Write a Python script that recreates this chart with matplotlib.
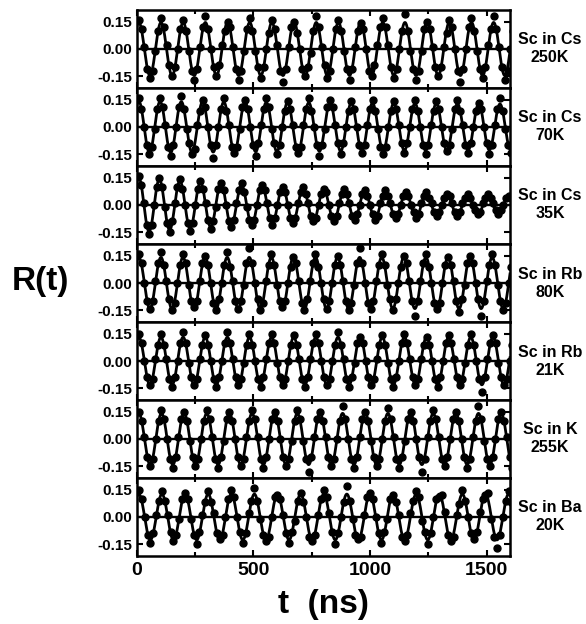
import numpy as np
import matplotlib
matplotlib.use("Agg")
import matplotlib.pyplot as plt
from matplotlib.ticker import MultipleLocator, FixedLocator, FixedFormatter

plt.rcParams['font.family'] = ['Liberation Sans', 'DejaVu Sans']
plt.rcParams['font.weight'] = 'bold'
plt.rcParams['axes.unicode_minus'] = False

# ---------------- data ----------------
panel_labels = ["Sc in Cs\n250K", "Sc in Cs\n70K", "Sc in Cs\n35K",
                "Sc in Rb\n80K", "Sc in Rb\n21K", "Sc in K\n255K", "Sc in Ba\n20K"]

# fitted curve parameters
fit_amp = [0.145, 0.14, 0.15, 0.14, 0.13, 0.14, 0.125]     # amplitude
fit_period = [95.0, 91.0, 88.0, 94.6, 94.8, 97.0, 99.0]    # ns
fit_decay = [0.0, 0.00007, 0.0007, 0.0, 0.0, 0.0, 0.0]     # 1/ns
fit_peak = 10.0                                             # ns, first maximum

# measured R(t), in units of 0.01, 8 samples per oscillation period starting at first maximum
r_cs250 = [16, 11, 1, -11, -16, -12, -1, 10,
           17, 12, 2, -9, -15, -10, 0, 11,
           16, 10, -1, -12, -17, -11, 1, 12,
           18, 11, 0, -10, -15, -9, 2, 10,
           15, 12, 1, -11, -17, -12, -1, 11,
           17, 10, -1, -10, -16, -10, 0, 9,
           16, 11, 2, -12, -18, -11, 1, 12,
           15, 9, 0, -11, -15, -10, -2, 10,
           18, 12, 1, -9, -16, -12, 0, 11,
           16, 10, -1, -11, -17, -11, 1, 10,
           14, 11, 0, -12, -15, -9, 2, 12,
           17, 12, 2, -10, -16, -11, 0, 10,
           19, 10, -1, -11, -17, -12, -1, 11,
           15, 11, 1, -10, -15, -10, 1, 9,
           16, 12, 0, -12, -18, -11, 0, 12,
           17, 10, -1, -11, -16, -10, 2, 11,
           18, 11, 1, -10, -17, -12, 0, 10]

r_cs70 = [16, 10, 0, -10, -15, -11, -1, 10,
          16, 11, 1, -11, -16, -10, 0, 11,
          17, 10, -1, -9, -15, -12, 1, 9,
          15, 11, 0, -10, -17, -10, 0, 10,
          16, 9, 1, -11, -14, -11, -1, 11,
          15, 10, 0, -10, -16, -9, 1, 10,
          16, 11, -1, -9, -15, -10, 0, 9,
          14, 10, 1, -11, -14, -11, 1, 10,
          16, 9, 0, -10, -16, -10, -1, 11,
          15, 11, 1, -9, -15, -9, 0, 9,
          14, 10, 0, -10, -14, -10, 1, 10,
          15, 9, -1, -11, -15, -11, 0, 9,
          14, 10, 1, -9, -14, -9, 0, 10,
          15, 9, 0, -10, -15, -10, 1, 9,
          14, 10, 0, -9, -13, -10, -1, 10,
          15, 9, 1, -10, -14, -9, 0, 9,
          13, 10, 0, -9, -15, -10, 1, 10,
          16, 9, -1, -10, -14, -9, 0, 10]

r_cs35 = [16, 11, 1, -11, -16, -11, 0, 10,
          15, 10, -1, -10, -15, -9, 1, 10,
          14, 9, 0, -10, -14, -10, 0, 9,
          13, 9, 1, -8, -13, -9, -1, 9,
          12, 8, 0, -9, -12, -8, 1, 8,
          12, 7, -1, -8, -11, -8, 0, 8,
          11, 8, 1, -7, -11, -7, 0, 7,
          10, 7, 0, -7, -10, -7, 1, 7,
          10, 6, 1, -6, -9, -7, 0, 6,
          9, 7, 0, -6, -9, -6, 1, 6,
          9, 6, 1, -6, -8, -5, 0, 6,
          8, 5, 0, -5, -8, -6, 1, 5,
          8, 5, 1, -5, -7, -5, 0, 5,
          7, 5, 0, -4, -7, -5, 1, 5,
          7, 4, 1, -4, -6, -4, 0, 4,
          6, 5, 1, -4, -6, -4, 1, 4,
          6, 4, 0, -3, -5, -4, 1, 4,
          6, 4, 1, -3, -5, -3, 0, 4,
          5, 4]

r_rb80 = [16, 11, 0, -10, -14, -10, 1, 11,
          17, 10, 1, -9, -15, -11, 0, 10,
          16, 11, -1, -10, -13, -10, 1, 11,
          15, 10, 0, -11, -15, -9, 0, 10,
          17, 9, 1, -10, -14, -10, -1, 11,
          19, 11, 0, -9, -15, -11, 1, 10,
          16, 10, -1, -10, -13, -10, 0, 9,
          14, 11, 1, -11, -15, -9, 1, 11,
          16, 9, 0, -9, -14, -10, 0, 10,
          15, 10, 1, -10, -15, -11, -1, 11,
          19, 11, 0, -11, -14, -10, 1, 10,
          16, 10, -1, -9, -15, -9, 0, 9,
          15, 11, 1, -10, -18, -10, 1, 11,
          16, 9, 0, -11, -14, -11, 0, 10,
          14, 10, 1, -10, -16, -9, -1, 11,
          15, 11, 0, -9, -18, -10, 1, 10,
          16, 10, -1, -10, -15, -11, 0, 9]

r_rb21 = [15, 10, 0, -9, -13, -10, 1, 9,
          15, 9, 1, -10, -14, -9, 0, 10,
          16, 10, -1, -9, -13, -10, 1, 9,
          14, 9, 0, -10, -14, -9, 0, 10,
          16, 10, 1, -9, -13, -10, -1, 9,
          15, 9, 0, -10, -14, -9, 1, 10,
          15, 10, -1, -9, -13, -10, 0, 9,
          14, 9, 1, -10, -14, -9, 1, 10,
          15, 10, 0, -9, -13, -10, 0, 9,
          16, 9, 1, -10, -14, -9, -1, 10,
          13, 10, 0, -9, -13, -10, 1, 9,
          14, 9, -1, -10, -14, -9, 0, 10,
          15, 10, 1, -9, -13, -10, 1, 9,
          13, 9, 0, -10, -14, -9, 0, 10,
          14, 10, 1, -9, -13, -10, -1, 9,
          15, 9, 0, -10, -17, -9, 1, 10,
          14, 10, -1, -9, -13, -10, 0, 9]

r_k255 = [15, 10, 1, -10, -15, -11, 0, 10,
          16, 11, 0, -11, -16, -10, 1, 11,
          15, 10, -1, -10, -15, -11, 0, 10,
          16, 11, 1, -11, -16, -10, -1, 11,
          15, 10, 0, -10, -15, -11, 1, 10,
          16, 11, 1, -11, -16, -10, 0, 11,
          15, 10, 0, -10, -15, -11, -1, 10,
          16, 11, -1, -11, -18, -10, 1, 11,
          15, 10, 1, -10, -15, -11, 0, 10,
          18, 11, 0, -11, -16, -10, 1, 11,
          15, 10, -1, -10, -15, -11, 0, 10,
          17, 11, 1, -11, -16, -10, -1, 11,
          15, 10, 0, -10, -18, -11, 1, 10,
          16, 11, 1, -11, -15, -10, 0, 11,
          15, 10, 0, -10, -16, -11, 1, 10,
          18, 11, -1, -11, -15, -10, 0, 11,
          15, 10, 1, -10, -16, -11, 0, 10]

r_ba20 = [15, 10, 0, -10, -14, -9, 1, 9,
          14, 9, 1, -8, -13, -10, -1, 10,
          13, 10, -1, -10, -15, -8, 1, 8,
          14, 8, 2, -9, -12, -10, 0, 10,
          15, 11, 0, -8, -14, -9, 2, 9,
          16, 9, -1, -10, -13, -11, 0, 11,
          12, 10, 1, -9, -14, -8, -2, 9,
          13, 8, 0, -11, -13, -10, 1, 10,
          15, 11, 2, -8, -15, -9, 0, 8,
          17, 9, -1, -10, -12, -11, 1, 11,
          13, 10, 0, -9, -14, -8, -1, 10,
          12, 8, 1, -11, -13, -10, 2, 9,
          14, 11, -2, -8, -15, -9, 0, 10,
          11, 12, 3, -10, -13, -11, 1, 7,
          15, 9, 0, -9, -12, -8, 3, 10,
          12, 13, -1, -11, -17, -10, 0, 9,
          14, 8]

panel_data = [r_cs250, r_cs70, r_cs35, r_rb80, r_rb21, r_k255, r_ba20]

x_ticks = [0, 500, 1000, 1500]
y_ticks = [-0.15, 0.0, 0.15]
y_ticklabels = ["-0.15", "0.00", "0.15"]

# ---------------- figure ----------------
fig = plt.figure(figsize=(5.86, 6.24), dpi=100)
left, right = 136.5 / 586, 510 / 586
top, bottom = 1 - 10 / 624, 1 - 556 / 624
n = len(panel_data)
axes = fig.subplots(n, 1, sharex=True,
                    gridspec_kw=dict(left=left, right=right, top=top, bottom=bottom, hspace=0))

t_fit = np.linspace(0, 1600, 2000)
for i, ax in enumerate(axes):
    vals = np.array(panel_data[i]) / 100.0
    P = fit_period[i]
    t_data = fit_peak + np.arange(len(vals)) * P / 8.0
    r_fit = fit_amp[i] * np.cos(2 * np.pi * (t_fit - fit_peak) / P) * np.exp(-fit_decay[i] * t_fit)

    ax.axhline(0, color='black', lw=1.7, zorder=1)
    ax.plot(t_data, vals, 'o', color='black', ms=5.0, zorder=2)
    ax.plot(t_fit, r_fit, '-', color='black', lw=2.0, zorder=3)

    ax.set_xlim(0, 1600)
    ax.set_ylim(-0.213, 0.213)
    ax.yaxis.set_major_locator(FixedLocator(y_ticks))
    ax.yaxis.set_major_formatter(FixedFormatter(y_ticklabels))
    ax.xaxis.set_major_locator(FixedLocator(x_ticks))
    ax.xaxis.set_minor_locator(MultipleLocator(250))
    ax.tick_params(axis='both', which='both', direction='in', top=True, right=True,
                   width=1.5, color='black')
    ax.tick_params(axis='both', which='major', length=4.5)
    ax.tick_params(axis='both', which='minor', length=3)
    ax.tick_params(axis='y', labelsize=11, pad=3)
    ax.tick_params(axis='x', labelsize=14, pad=4)
    for lab in ax.get_yticklabels() + ax.get_xticklabels():
        lab.set_fontweight('bold')
    for s in ax.spines.values():
        s.set_linewidth(1.8)
    if i < n - 1:
        ax.tick_params(axis='x', labelbottom=False)

    ax.text(1.107, 0.5, panel_labels[i], transform=ax.transAxes, ha='center', va='center',
            multialignment='center', fontsize=11.5, fontweight='bold', linespacing=1.25)

fig.text(40 / 586, 1 - 282 / 624, "R(t)", fontsize=24, fontweight='bold', ha='center', va='center')
fig.text(323 / 586, 1 - 605 / 624, "t  (ns)", fontsize=24, fontweight='bold', ha='center', va='center')

fig.savefig("out.png", dpi=100)
